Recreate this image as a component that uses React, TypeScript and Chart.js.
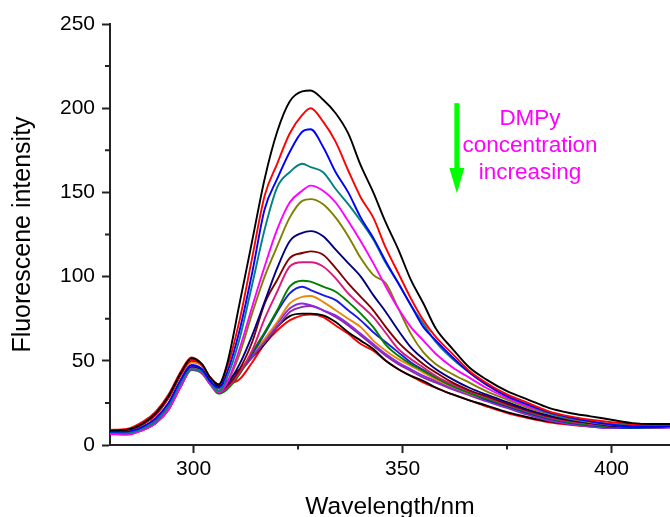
import { useEffect, useRef } from "react";
import { Chart, registerables } from "chart.js";

Chart.register(...registerables);

const wavelengths = [280, 284, 288, 291, 294, 297, 299.5, 302, 304, 306, 308, 311, 314, 317, 320, 323, 326, 328, 331, 334, 337, 340, 343, 346, 349, 352, 355, 358, 362, 366, 370, 375, 380, 385, 390, 395, 400, 405, 410, 415];

const black1 = [8.5, 9, 13, 19, 29, 43, 51.5, 48, 40, 36, 48, 84, 121, 158, 186, 204, 210, 210.5, 205, 197, 185, 166, 150, 132, 116, 98, 84, 69, 57, 46, 39, 32, 27, 22, 19, 17, 15, 13, 12.5, 12.5];
const red1 = [8.5, 9, 12.5, 18, 28, 42, 50.5, 47.5, 40, 36, 46, 74, 111, 148, 167, 185, 196, 200, 192, 180, 163, 147, 135, 117, 102, 87, 74, 64, 54, 44, 37, 30, 25, 20, 17, 15, 13.5, 12.5, 12, 12];
const blue1 = [8, 8, 11, 16, 25, 39, 47.5, 45, 38, 34, 43, 68, 102, 140, 158, 174, 186, 187.5, 177, 162, 150, 135, 123, 109, 96, 83, 70, 62, 52, 43, 36, 29, 24, 19.5, 16.5, 14, 12, 11, 11, 11.5];
const teal = [7.5, 7, 10, 14, 23, 37, 45, 43.5, 37, 32, 40, 63, 95, 128, 153, 162, 167, 165, 162, 152, 143, 133, 122, 108, 96, 83, 72, 61, 51, 43, 36, 29, 24, 19, 16, 14, 12.5, 12, 12, 12.5];
const magenta = [6.5, 6, 9, 13, 21, 35, 45, 43, 36, 31.5, 37, 57, 82, 106, 128, 144, 151, 154, 151, 144, 133, 121, 108, 94, 81, 70, 62, 54, 46, 40, 34, 28, 23, 19, 16, 14, 12, 11.5, 11.5, 12];
const olive = [7, 7, 10, 14, 22, 36, 45.5, 43.5, 37, 32, 37, 54, 78, 100, 118, 135, 145, 146, 143, 135, 124, 111, 101, 96, 81, 66, 55, 48, 42, 37, 32, 27, 22, 18.5, 15.5, 13.5, 12, 11.5, 11.5, 12];
const navy = [7.5, 7, 9.5, 14, 22, 36, 46, 44, 37, 32, 36, 48, 65, 85, 105, 121, 126, 127, 124, 116, 108, 100, 89, 79, 68, 58, 51, 45, 39, 34, 30, 25.5, 21, 17.5, 15, 13, 11.5, 11, 11, 11.5];
const wine = [7.5, 7, 9.5, 14, 22, 36, 46, 44, 37, 32, 35, 45, 61, 84, 98, 111, 114, 115, 113, 105, 96, 88, 80, 70, 61, 54, 48, 43, 37, 32.5, 29, 24.5, 20.5, 17, 14.5, 13, 11.5, 11, 11, 11.5];
const pink = [7, 6.5, 9, 13, 21, 35, 45, 43, 36, 31.5, 34, 43, 56, 75, 91, 106, 108.5, 108.5, 106, 99, 90, 83, 76, 66.5, 57, 51, 46, 41, 36, 32, 28.5, 24, 20, 16.5, 14, 12.5, 11.5, 11, 11, 11.5];
const green = [7.5, 6.5, 9, 13, 21, 35, 44.5, 42.5, 36, 30.5, 33, 42, 55, 67, 80, 94, 97.5, 97, 94, 91, 85, 78, 70, 59.5, 53, 48, 44, 40, 35, 31, 27.5, 23.5, 19.5, 16, 13.5, 12, 11, 10.5, 10.5, 11];
const blue2 = [7.5, 7, 9.5, 14, 22, 36, 46, 44, 37, 32, 34, 43, 54, 66, 79, 90, 94, 92, 89, 86, 80, 74, 67, 61, 55, 49, 44.5, 40, 35, 31, 27, 23, 19, 15.5, 13, 11.5, 10.5, 10, 10.5, 11];
const orange = [8, 8, 11, 16, 25, 39, 49, 47, 39, 33, 36, 44, 54, 63, 73, 84, 88, 88.5, 85, 80, 75, 70, 62, 56, 51, 47, 43, 39, 34.5, 30.5, 27, 23, 19, 15.5, 13, 11.5, 10.5, 10.5, 10.5, 11];
const violet = [7.5, 7, 10, 15, 23, 37, 47, 45, 38, 33, 36, 44, 53, 62, 72, 81, 84, 83, 80, 77, 72, 66, 60, 54, 49, 45, 41, 38, 33.5, 30, 26.5, 22.5, 18.5, 15, 12.5, 11, 10, 10, 10, 10.5];
const purple = [7.5, 7, 10, 15, 23, 37, 47, 45, 38, 33, 35.5, 43, 52, 61, 70, 79, 82, 82.5, 80, 76, 71, 65, 59, 53, 48, 44, 40, 37, 33, 29.5, 26, 22, 18, 14.5, 12.5, 11, 10, 10, 10, 10.5];
const black2 = [8.5, 9, 12.5, 18, 28, 42, 50, 47, 39, 35, 38, 45, 52, 60, 70, 76.5, 78, 78, 77, 73, 67, 62, 57, 50, 45, 41, 38, 34, 30, 26.5, 23.5, 19.5, 16.5, 14, 12.5, 11.5, 11, 10.5, 10.5, 11];
const red2 = [9, 9.5, 14, 20, 30, 44, 52, 48, 40, 35.5, 36, 39, 49, 60, 68, 74, 77, 77.5, 76, 71, 66, 60, 56, 50, 45, 41, 37, 34, 30, 26.5, 23, 19, 16, 13.5, 12, 11, 10.5, 10.5, 11, 11.5];

const allSeries = [black1, red1, blue1, teal, magenta, olive, navy, wine, pink, green, blue2, orange, violet, purple, black2, red2];
const seriesColors = ["#000000", "#FF0000", "#0000FF", "#008080", "#FF00FF", "#808000", "#000080", "#800000", "#D81B7E", "#008000", "#1A1AE6", "#E8880E", "#8A2BE2", "#8E2A9E", "#000000", "#FF0000"];

const xMajorTicks = [300, 350, 400];
const xMinorTicks = [325, 375];
const yMajorTicks = [0, 50, 100, 150, 200, 250];
const yMinorTicks = [25, 75, 125, 175, 225];
const annotationLines = ["DMPy", "concentration", "increasing"];

const FONT = "'Liberation Sans', Arial, sans-serif";

const minorTicksPlugin = {
  id: "minorTicks",
  afterDraw(chart: any) {
    const ctx = chart.ctx;
    const xs = chart.scales.x;
    const ys = chart.scales.y;
    const area = chart.chartArea;
    ctx.save();
    ctx.strokeStyle = "#222";
    ctx.lineWidth = 2;
    ctx.beginPath();
    xMinorTicks.forEach((v) => {
      const px = xs.getPixelForValue(v);
      ctx.moveTo(px, area.bottom);
      ctx.lineTo(px, area.bottom + 4.5);
    });
    yMinorTicks.forEach((v) => {
      const py = ys.getPixelForValue(v);
      ctx.moveTo(area.left, py);
      ctx.lineTo(area.left - 5, py);
    });
    ctx.stroke();
    ctx.restore();
  },
};

const annotationPlugin = {
  id: "annotation",
  afterDraw(chart: any) {
    const ctx = chart.ctx;
    const xs = chart.scales.x;
    const ys = chart.scales.y;
    const ax = xs.getPixelForValue(363);
    const top = ys.getPixelForValue(203);
    const headTop = ys.getPixelForValue(164.5);
    const tip = ys.getPixelForValue(149.5);
    ctx.save();
    ctx.fillStyle = "#00FF00";
    ctx.fillRect(ax - 2.5, top, 5, headTop - top + 1);
    ctx.beginPath();
    ctx.moveTo(ax - 7.5, headTop);
    ctx.lineTo(ax + 7.5, headTop);
    ctx.lineTo(ax, tip);
    ctx.closePath();
    ctx.fill();
    ctx.fillStyle = "#FF00FF";
    ctx.font = "22.5px " + FONT;
    ctx.textAlign = "center";
    ctx.textBaseline = "alphabetic";
    const tx = xs.getPixelForValue(380.5);
    const baselines = [190, 174, 158];
    annotationLines.forEach((t, i) => {
      ctx.fillText(t, tx, ys.getPixelForValue(baselines[i]));
    });
    ctx.restore();
  },
};

export default function App() {
  const ref = useRef<HTMLCanvasElement>(null);
  useEffect(() => {
    const chart = new Chart(ref.current as HTMLCanvasElement, {
      type: "line",
      data: {
        datasets: allSeries.map((s, i) => ({
          data: wavelengths.map((x, j) => ({ x, y: s[j] })),
          borderColor: seriesColors[i],
          backgroundColor: seriesColors[i],
          borderWidth: 1.9,
          pointRadius: 0,
          cubicInterpolationMode: "monotone" as const,
          fill: false,
        })),
      },
      options: {
        responsive: false,
        animation: false,
        devicePixelRatio: 1,
        layout: { padding: { top: 24, right: 0, left: 0, bottom: 0 } },
        plugins: { legend: { display: false }, tooltip: { enabled: false } },
        scales: {
          x: {
            type: "linear",
            min: 280,
            max: 414,
            afterBuildTicks: (s: any) => {
              s.ticks = xMajorTicks.map((v) => ({ value: v }));
            },
            afterFit: (s: any) => {
              s.height = 72;
            },
            border: { display: true, color: "#222", width: 2 },
            grid: { drawOnChartArea: false, drawTicks: true, tickLength: 8, tickColor: "#222", tickWidth: 2 },
            ticks: { font: { family: FONT, size: 21 }, color: "#000", padding: 4, maxRotation: 0, autoSkip: false },
            title: { display: true, text: "Wavelength/nm", color: "#000", font: { family: FONT, size: 24.5, lineHeight: 0.8 }, padding: 0 },
          },
          y: {
            type: "linear",
            min: 0,
            max: 250,
            afterBuildTicks: (s: any) => {
              s.ticks = yMajorTicks.map((v) => ({ value: v }));
            },
            afterFit: (s: any) => {
              s.width = 110;
            },
            border: { display: true, color: "#222", width: 2 },
            grid: { drawOnChartArea: false, drawTicks: true, tickLength: 8, tickColor: "#222", tickWidth: 2 },
            ticks: { font: { family: FONT, size: 21 }, color: "#000", padding: 7, autoSkip: false },
            title: { display: true, text: "Fluorescene intensity", color: "#000", font: { family: FONT, size: 25, lineHeight: 1.2 }, padding: { top: 8, bottom: 0 } },
          },
        },
      },
      plugins: [minorTicksPlugin, annotationPlugin],
    } as any);
    return () => chart.destroy();
  }, []);
  return (
    <div style={{ position: "absolute", left: 0, top: 0, width: 670, height: 517 }}>
      <canvas ref={ref} width={670} height={517} style={{ display: "block" }} />
    </div>
  );
}
